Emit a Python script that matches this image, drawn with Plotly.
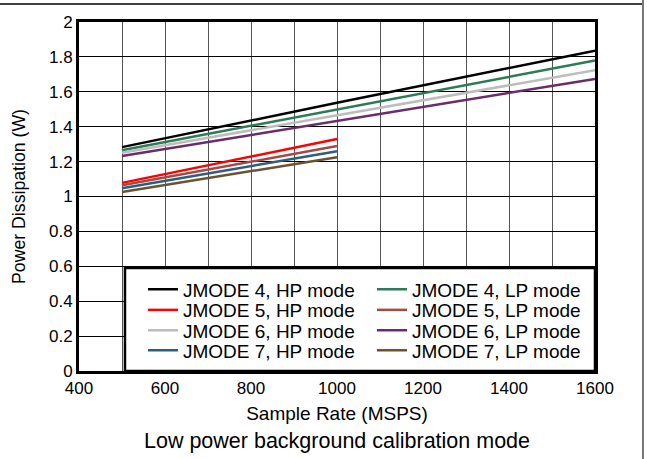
import plotly.graph_objects as go

# ---- data ----
x_long = [500, 1000, 1600]
x_short = [500, 1000]

jm4_hp = [1.283, 1.537, 1.836]
jm4_lp = [1.265, 1.499, 1.779]
jm6_hp = [1.251, 1.466, 1.723]
jm6_lp = [1.232, 1.433, 1.674]
jm5_hp = [1.078, 1.329]
jm5_lp = [1.065, 1.289]
jm7_hp = [1.047, 1.259]
jm7_lp = [1.026, 1.225]

names = ["JMODE 4, HP mode", "JMODE 4, LP mode",
         "JMODE 5, HP mode", "JMODE 5, LP mode",
         "JMODE 6, HP mode", "JMODE 6, LP mode",
         "JMODE 7, HP mode", "JMODE 7, LP mode"]
xs = [x_long, x_long, x_short, x_short, x_long, x_long, x_short, x_short]
ys = [jm4_hp, jm4_lp, jm5_hp, jm5_lp, jm6_hp, jm6_lp, jm7_hp, jm7_lp]
colors = ["#000000", "#2b7a58", "#ff0000", "#a64843",
          "#bdbdbd", "#6a2c6a", "#2c5f7e", "#6e5230"]
legend_ids = ["legend", "legend", "legend2", "legend2",
              "legend3", "legend3", "legend4", "legend4"]

x_tickvals = list(range(400, 1601, 100))
x_ticktext = [str(v) if v % 200 == 0 else "" for v in x_tickvals]
y_tickvals = [0, 0.2, 0.4, 0.6, 0.8, 1, 1.2, 1.4, 1.6, 1.8, 2]
y_ticktext = ["0", "0.2", "0.4", "0.6", "0.8", "1", "1.2", "1.4", "1.6", "1.8", "2"]

FONT = "Liberation Sans, Arial, Helvetica, sans-serif"

fig = go.Figure()
for n, xx, yy, c, lg in zip(names, xs, ys, colors, legend_ids):
    fig.add_trace(go.Scatter(x=xx, y=yy, mode="lines", name=n, legend=lg,
                             line=dict(color=c, width=2.5)))


def row_legend(ypos):
    return dict(
        orientation="h", x=0.124, y=ypos, xanchor="left", yanchor="middle",
        bgcolor="rgba(0,0,0,0)", borderwidth=0,
        font=dict(family=FONT, size=19, color="black"),
        entrywidth=184, entrywidthmode="pixels",
        traceorder="normal", tracegroupgap=0,
    )


fig.update_layout(
    width=647, height=459,
    margin=dict(l=79, r=52, t=22, b=88),
    paper_bgcolor="white", plot_bgcolor="white",
    font=dict(family=FONT, size=17, color="black"),
    showlegend=True,
    legend=row_legend(0.234),
    legend2=row_legend(0.1747),
    legend3=row_legend(0.1160),
    legend4=row_legend(0.0587),
    xaxis=dict(
        range=[400, 1600], tickvals=x_tickvals, ticktext=x_ticktext,
        showgrid=True, gridcolor="#555555", gridwidth=1,
        showline=True, linecolor="black", linewidth=3, mirror=True,
        ticks="", zeroline=False,
        title=dict(text="Sample Rate (MSPS)", standoff=10,
                   font=dict(family=FONT, size=19)),
        tickfont=dict(family=FONT, size=17),
    ),
    yaxis=dict(
        range=[0, 2], tickvals=y_tickvals, ticktext=y_ticktext,
        showgrid=True, gridcolor="black", gridwidth=1,
        showline=True, linecolor="black", linewidth=3, mirror=True,
        ticks="", zeroline=False,
        title=dict(text="Power Dissipation (W)", standoff=19,
                   font=dict(family=FONT, size=17.7)),
        tickfont=dict(family=FONT, size=17),
    ),
    annotations=[dict(
        text="Low power background calibration mode",
        xref="paper", yref="paper", x=0.50, y=-0.201,
        xanchor="center", yanchor="middle", showarrow=False,
        font=dict(family=FONT, size=21.5, color="black"),
    )],
    shapes=[
        # legend box
        dict(type="rect", xref="paper", yref="paper",
             x0=0.0891, x1=1.0, y0=0.0, y1=0.295, layer="above",
             fillcolor="white", line=dict(color="black", width=2.5)),
        # outer frame lines
        dict(type="line", xref="paper", yref="paper",
             x0=-0.16, x1=1.093, y0=1.0516, y1=1.0516,
             line=dict(color="black", width=1.5)),
        dict(type="line", xref="paper", yref="paper",
             x0=1.093, x1=1.093, y0=-0.27, y1=1.07,
             line=dict(color="#777777", width=2)),
    ],
)

fig.write_html("out.html", config={"displayModeBar": False},
               post_script="document.body.style.margin='0';document.body.style.overflow='hidden';")
